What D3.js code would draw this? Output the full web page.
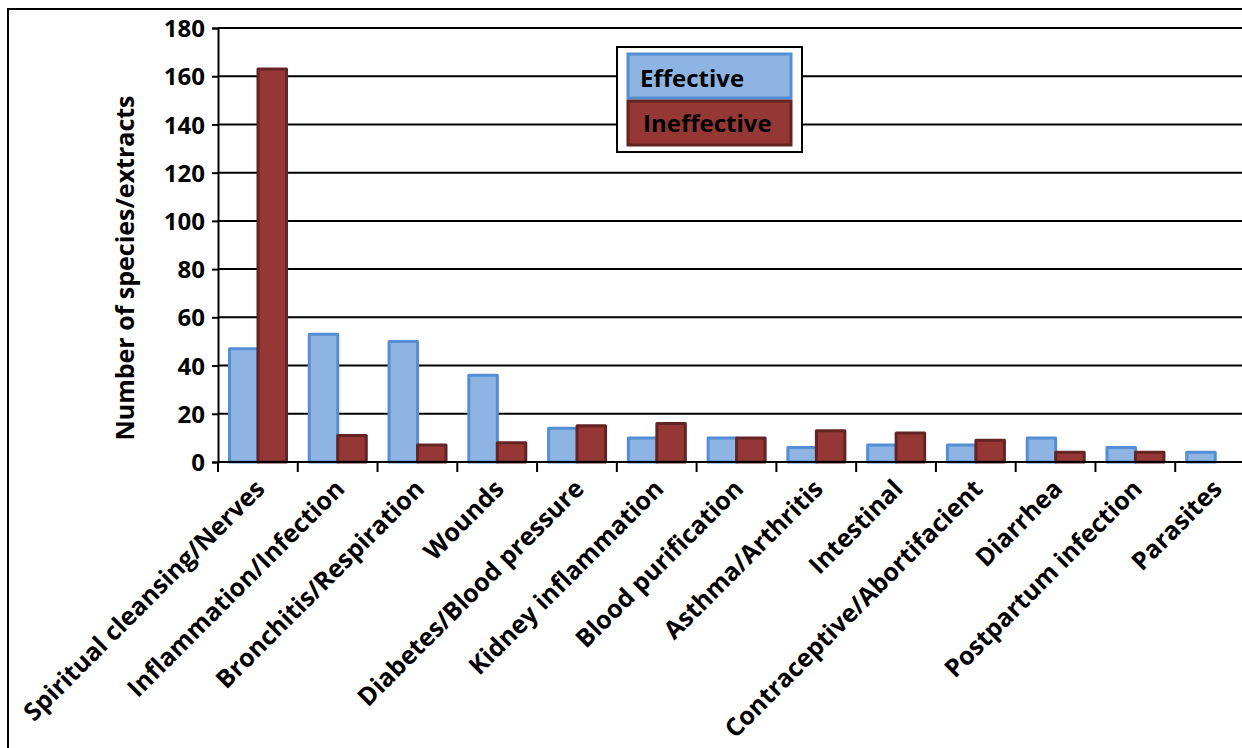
<!DOCTYPE html>
<html lang="en">
<head>
    <meta charset="UTF-8">
    <title>Effective vs ineffective</title>
    <script src="https://d3js.org/d3.v7.min.js"></script>
    <style>
        body { margin: 0; background: #fff; }
        text { font-family: "Open Sans", Lato, sans-serif; font-weight: bold; fill: #000; }
    </style>
</head>
<body>
    <div id="my_chart"></div>
<script>
var categories = ["Spiritual cleansing/Nerves", "Inflammation/Infection", "Bronchitis/Respiration",
    "Wounds", "Diabetes/Blood pressure", "Kidney inflammation", "Blood purification",
    "Asthma/Arthritis", "Intestinal", "Contraceptive/Abortifacient", "Diarrhea",
    "Postpartum infection", "Parasites"];
var effective   = [47, 53, 50, 36, 14, 10, 10, 6, 7, 7, 10, 6, 4];
var ineffective = [163, 11, 7, 8, 15, 16, 10, 13, 12, 9, 4, 4, 0];
var seriesNames = ["Effective", "Ineffective"];
var yTicks = [0, 20, 40, 60, 80, 100, 120, 140, 160, 180];

var W = 1242, H = 748;
var plotL = 218, plotR = 1255, plotT = 28, plotB = 462;
var fs = 25;

var svg = d3.select("#my_chart").append("svg")
    .attr("width", W).attr("height", H);

// outer frame (runs off the right/bottom edge like the source)
svg.append("rect")
    .attr("x", 8).attr("y", 9)
    .attr("width", 1300).attr("height", 800)
    .attr("fill", "none").attr("stroke", "#000").attr("stroke-width", 2);

var x0 = d3.scaleBand().domain(categories).range([plotL, plotR]);
var x1 = d3.scaleBand().domain(seriesNames).range([11.5, 68.5]);
var y = d3.scaleLinear().domain([0, 180]).range([plotB, plotT]);

var colors = {
    Effective:   {fill: "#8eb4e3", stroke: "#558ed5"},
    Ineffective: {fill: "#953735", stroke: "#632523"}
};

// gridlines
svg.append("g").selectAll("line")
    .data(yTicks.slice(1))
    .enter().append("line")
    .attr("x1", plotL).attr("x2", plotR)
    .attr("y1", function(d) { return y(d); })
    .attr("y2", function(d) { return y(d); })
    .attr("stroke", "#000").attr("stroke-width", 2);

// y axis
var yAxis = svg.append("g")
    .attr("transform", "translate(" + plotL + ",0)")
    .call(d3.axisLeft(y).tickValues(yTicks).tickSize(6).tickPadding(7));
yAxis.select(".domain").attr("stroke", "#000").attr("stroke-width", 2);
yAxis.selectAll(".tick line").attr("stroke", "#000").attr("stroke-width", 2);
yAxis.selectAll(".tick text")
    .attr("font-size", 24).attr("font-family", null).attr("dy", "0.36em");

// bars
var rows = categories.map(function(c, i) {
    return {cat: c, vals: [{k: "Effective", v: effective[i]}, {k: "Ineffective", v: ineffective[i]}]};
});

var groups = svg.append("g").selectAll("g")
    .data(rows)
    .enter().append("g")
    .attr("transform", function(d) { return "translate(" + x0(d.cat) + ",0)"; });

groups.selectAll("rect")
    .data(function(d) { return d.vals.filter(function(e) { return e.v > 0; }); })
    .enter().append("rect")
    .attr("x", function(d) { return x1(d.k); })
    .attr("y", function(d) { return y(d.v); })
    .attr("width", x1.bandwidth())
    .attr("height", function(d) { return plotB - y(d.v); })
    .attr("fill", function(d) { return colors[d.k].fill; })
    .attr("stroke", function(d) { return colors[d.k].stroke; })
    .attr("stroke-width", 3)
    .attr("stroke-linejoin", "round");

// x axis line and boundary ticks
svg.append("line")
    .attr("x1", plotL).attr("x2", plotR)
    .attr("y1", plotB).attr("y2", plotB)
    .attr("stroke", "#000").attr("stroke-width", 2);

svg.append("g").selectAll("line")
    .data(categories)
    .enter().append("line")
    .attr("x1", function(d) { return x0(d); })
    .attr("x2", function(d) { return x0(d); })
    .attr("y1", plotB).attr("y2", plotB + 10)
    .attr("stroke", "#000").attr("stroke-width", 2);

// category labels, rotated
svg.append("g").selectAll("text")
    .data(categories)
    .enter().append("text")
    .attr("text-anchor", "end")
    .attr("font-size", fs)
    .attr("transform", function(d) {
        var cx = x0(d) + x0.bandwidth() / 2 - 4;
        return "translate(" + cx + "," + (plotB + 16) + ") rotate(-45)";
    })
    .attr("dy", "0.7em")
    .text(function(d) { return d; });

// y title
svg.append("text")
    .attr("transform", "translate(134,268) rotate(-90)")
    .attr("text-anchor", "middle")
    .attr("font-size", fs)
    .text("Number of species/extracts");

// legend
var lg = svg.append("g");
lg.append("rect")
    .attr("x", 617).attr("y", 47).attr("width", 185).attr("height", 105)
    .attr("fill", "#fff").attr("stroke", "#000").attr("stroke-width", 2);

lg.selectAll(".sw")
    .data(seriesNames)
    .enter().append("rect")
    .attr("x", 628)
    .attr("y", function(d, i) { return 54 + i * 47; })
    .attr("width", 163).attr("height", 44)
    .attr("fill", function(d) { return colors[d].fill; })
    .attr("stroke", function(d) { return colors[d].stroke; })
    .attr("stroke-width", 3);

lg.selectAll(".lt")
    .data(seriesNames)
    .enter().append("text")
    .attr("x", function(d, i) { return i ? 643 : 640; })
    .attr("y", function(d, i) { return 87 + i * 45; })
    .attr("font-size", 24)
    .text(function(d) { return d; });
</script>
</body>
</html>
